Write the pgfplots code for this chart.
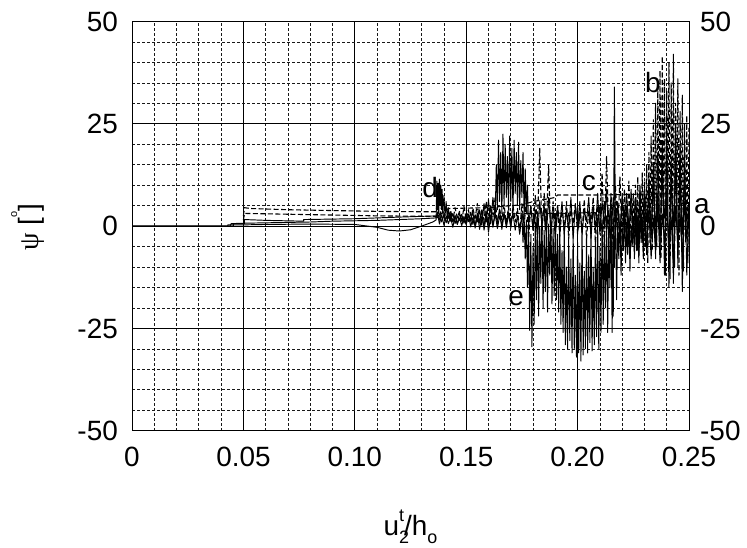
\documentclass[border=0pt]{standalone}
\usepackage{pgfplots}
\pgfplotsset{compat=1.18}
\usepackage{fontspec}
\setmainfont{Liberation Sans}
\newfontfamily\grk{Liberation Serif}
\pgfplotsset{
  solidcurve/.style={black, no markers, line width=0.95bp, line join=round},
  dashcurve/.style={black, no markers, line width=1.1bp, line join=round, dash pattern=on 5bp off 2.5bp},
}
\begin{document}
\begin{tikzpicture}
\useasboundingbox (0,0) rectangle (747bp,548bp);
\begin{axis}[
  at={(132bp,117.3bp)}, anchor=south west,
  width=557bp, height=409.2bp, scale only axis,
  xmin=0, xmax=0.25, ymin=-50, ymax=50,
  xtick={0,0.05,0.1,0.15,0.2,0.25},
  xticklabels={0,0.05,0.10,0.15,0.20,0.25},
  scaled x ticks=false,
  ytick={-50,-25,0,25,50},
  yticklabels={-50,-25,0,25,50},
  minor x tick num=4, minor y tick num=4,
  grid=both,
  major grid style={black, line width=0.8bp},
  minor grid style={black!90, line width=0.7bp, dash pattern=on 3bp off 2bp},
  major tick length=0pt, minor tick length=0pt,
  tick style={draw=none},
  axis line style={line width=1bp},
  /pgf/number format/assume math mode=true,
  ticklabel style={font=\fontsize{28}{30}\selectfont, inner sep=0pt},
  xticklabel style={anchor=north, yshift=-16bp},
  yticklabel style={anchor=east, xshift=-14bp},
  clip=false,
]
% series d (solid)
\addplot[solidcurve] coordinates {(0,0)(0.043,0)(0.043,0.3)(0.05,0.3)(0.06,0.4)(0.08,0.5)(0.1,0.4)(0.11,-0.3)(0.115,-1.0)(0.12,-1.2)(0.125,-0.9)(0.13,0.0)(0.135,1.0)(0.1365,1.5)
(0.1368,11)(0.1371,4)(0.1374,10.5)(0.1377,3)(0.138,11.5)(0.1383,5)(0.1386,10)(0.1389,4)(0.1392,9)(0.1395,3)(0.14,7.5)(0.1405,2.5)(0.141,6)(0.1415,2)(0.142,4.5)(0.1425,1.5)
(0.143,3.0)(0.144,1.0)(0.145,2.5)(0.146,0.5)(0.147,3.2)(0.148,1.2)(0.149,2.0)(0.15,0.3)(0.151,2.8)(0.152,1.5)(0.153,3.5)(0.154,-0.5)(0.155,2.2)(0.156,1.0)(0.157,4.0)(0.158,-1.0)(0.159,2.5)(0.16,0.8)(0.161,5.0)(0.162,-0.3)(0.163,3.0)(0.164,1.0)(0.165,4.2)(0.166,-0.8)(0.167,2.8)(0.168,0.5)(0.169,3.5)(0.17,1.0)(0.171,3.1)(0.172,3.0)(0.175,3.2)(0.1755,1.5)(0.176,3.1)(0.18,3.1)(0.1805,0.5)(0.181,3.1)(0.185,3.2)(0.1855,-1.0)(0.186,3.1)(0.19,3.1)(0.1905,0.0)(0.191,3.2)(0.195,3.1)(0.1955,1.0)(0.196,3.2)(0.2,3.2)(0.2005,-0.5)(0.201,3.2)(0.205,3.3)(0.2055,0.5)(0.206,3.3)(0.208,3.3)
(0.209,0)(0.21,5)(0.211,-2)(0.212,6)(0.213,-1)(0.214,4)(0.215,-3)(0.216,7)(0.217,0)(0.218,5)(0.219,-2)(0.22,6)(0.221,1)(0.222,8)(0.223,-1)(0.224,5)(0.225,-3)(0.226,7)(0.227,0)(0.228,6)(0.229,-2)(0.23,9)(0.231,1)(0.232,7)(0.233,-3)(0.234,10)(0.235,0)(0.236,8)(0.237,-4)(0.238,12)(0.239,2)(0.24,9)(0.241,-5)(0.242,11)(0.243,0)(0.244,14)(0.245,-6)(0.246,10)(0.247,-2)(0.248,12)(0.249,1)(0.25,4.8)};
% series c (dashed)
\addplot[dashcurve] coordinates {(0.05,1.5)(0.0505,3.1)(0.07,2.9)(0.09,2.7)(0.11,2.5)(0.13,2.4)(0.1365,2.3)(0.14,3.5)(0.142,4.3)(0.16,4.5)(0.17,5.0)(0.175,5.2)(0.18,6.0)(0.185,6.5)(0.19,7.0)(0.191,7.6)(0.21,7.6)(0.23,7.8)(0.25,8.0)};
% series a (solid)
\addplot[solidcurve] coordinates {(0,0)(0.0455,0)(0.0455,0.6)(0.0505,0.6)(0.0505,1.6)(0.06,1.4)(0.077,1.2)(0.077,1.6)(0.1,1.8)(0.12,2.2)(0.1365,2.5)
(0.137,2.0)(0.138,3.0)(0.139,1.0)(0.14,2.8)(0.141,0.8)(0.142,2.4)(0.143,1.2)(0.144,3.1)(0.145,0.6)(0.146,2.5)(0.147,1.4)(0.148,2.9)(0.149,0.7)(0.15,2.6)(0.151,1.1)(0.152,3.4)(0.153,0.4)(0.154,2.8)(0.155,1.0)(0.156,4.0)(0.157,0.2)(0.158,5.5)(0.159,1.0)(0.16,6.5)(0.161,0.5)(0.162,7.0)(0.163,2.0)
(0.1635,15)(0.164,4)(0.1645,21)(0.165,6)(0.1655,18)(0.166,3)(0.1665,22.5)(0.167,5)(0.1675,20)(0.168,7)(0.1685,17)(0.169,4)(0.1695,22)(0.17,6)(0.1705,19)(0.171,3)(0.1715,21)(0.172,8)(0.1725,18)(0.173,5)(0.1735,20.5)(0.174,4)(0.1745,16)(0.175,7)(0.1755,18)(0.176,2)(0.1765,14)(0.177,3)(0.1775,10)(0.178,0)
(0.179,5)(0.18,-1)(0.181,4)(0.182,-3)(0.183,6)(0.184,0)(0.185,5)(0.186,-2)(0.187,7)(0.188,-1)(0.189,4)(0.19,-3)(0.191,5)(0.192,0)(0.193,6)(0.194,-2)(0.195,4)(0.196,-1)(0.197,7)(0.198,-3)(0.199,5)(0.2,0)(0.201,6)(0.202,-2)(0.203,4)(0.204,1)(0.205,7)(0.206,-3)(0.207,5)(0.208,-1)(0.209,8)(0.21,-2)(0.211,6)(0.212,0)(0.213,9)(0.214,-4)(0.215,7)(0.216,-22)(0.2165,34)(0.217,-2)(0.218,6)(0.219,-4)(0.22,8)(0.221,-3)(0.222,5)(0.223,-5)(0.224,9)(0.225,-2)(0.226,7)(0.227,-6)(0.228,10)(0.229,-4)(0.23,8)(0.231,-7)(0.232,12)(0.233,-3)(0.234,15)(0.235,-8)(0.236,18)(0.237,-5)(0.238,20)(0.239,-12)(0.24,22)(0.241,-15)(0.242,16)(0.243,-14)(0.244,24)(0.245,-10)(0.246,20)(0.247,-16)(0.248,18)(0.249,-12)(0.25,5)};
% series b (dashed)
\addplot[dashcurve] coordinates {(0.05,2.5)(0.0505,4.5)(0.053,4.3)(0.07,4.0)(0.09,3.8)(0.11,3.6)(0.13,3.5)(0.1365,3.5)
(0.137,6)(0.138,1.5)(0.139,5)(0.14,2)(0.141,4.2)(0.142,1.8)(0.143,3.9)(0.144,1.2)(0.145,4.5)(0.146,2.0)(0.147,3.6)(0.148,1.0)(0.149,4.8)(0.15,1.6)(0.151,4.0)(0.152,0.8)(0.153,4.4)(0.154,1.9)(0.155,5.5)(0.156,0.6)(0.157,4.1)(0.158,1.4)(0.159,6.0)(0.16,1.0)(0.161,4.6)(0.162,2.2)(0.163,7.0)(0.164,0.5)(0.165,4.0)(0.166,1.5)(0.167,5.2)(0.168,0.8)(0.169,4.7)(0.17,-0.5)(0.171,5.0)(0.172,1.0)(0.173,4.3)(0.174,-1.5)(0.175,5.5)(0.176,0.0)(0.177,6.5)(0.178,-3.0)(0.179,5.0)(0.18,-1.0)(0.181,7.5)(0.182,0.5)(0.183,19.0)(0.184,-2.0)(0.185,8.0)(0.186,1.0)(0.187,15.0)(0.188,-4.0)(0.189,6.0)(0.19,0.0)(0.191,5.0)(0.192,-2.5)(0.193,4.5)(0.194,-1.0)(0.195,6.0)(0.196,-3.0)(0.197,4.0)(0.198,0.5)(0.199,5.5)(0.2,-2.0)(0.201,4.5)(0.202,-1.5)(0.203,6.5)(0.204,-3.0)(0.205,4.0)(0.206,0.0)(0.207,7.0)(0.208,-4.0)(0.209,5.0)(0.21,-1.0)(0.211,13.0)(0.212,-5.0)(0.213,17.0)(0.214,-3.0)(0.215,8.0)(0.216,-6.0)(0.217,10.0)(0.218,-2.0)(0.219,12.0)(0.22,-4.0)(0.221,9.0)(0.222,-5.0)(0.223,11.0)(0.224,-3.0)(0.225,8.0)
(0.2255,-6)(0.226,10)(0.2265,-4)(0.227,12)(0.2275,-7)(0.228,9)(0.2285,-3)(0.229,13)(0.2295,-8)(0.23,11)(0.2305,-5)(0.231,15)(0.2315,-9)(0.232,18)(0.2325,-4)(0.233,22)(0.2335,-6)(0.234,26)(0.2345,-2)(0.235,30)(0.2355,-5)(0.236,34)(0.2365,0)(0.237,38)(0.2375,-8)(0.238,41.5)(0.2385,2)(0.239,36)(0.2395,-12)(0.24,33)(0.2405,5)(0.241,40)(0.2415,-13)(0.242,35)(0.2425,0)(0.243,42)(0.2435,-10)(0.244,30)(0.2445,3)(0.245,36)(0.2455,-12)(0.246,28)(0.2465,-2)(0.247,32)(0.2475,-11)(0.248,25)(0.2485,-4)(0.249,27)(0.2495,-9)(0.25,24)};
% series e (solid)
\addplot[solidcurve] coordinates {(0,0)(0.044,0)(0.0445,0.6)(0.05,0.7)(0.06,0.8)(0.07,0.9)(0.08,1.0)(0.09,1.2)(0.1,1.3)(0.11,1.4)(0.12,1.6)(0.13,1.8)(0.1365,2.0)
(0.137,3.5)(0.138,0.5)(0.139,2.8)(0.14,0.2)(0.141,2.5)(0.142,0.6)(0.143,2.2)(0.144,-0.3)(0.145,2.6)(0.146,0.4)(0.147,2.0)(0.148,0.1)(0.149,2.4)(0.15,0.5)(0.151,2.9)(0.152,-0.2)(0.153,2.1)(0.154,0.3)(0.155,3.2)(0.156,-0.8)(0.157,2.4)(0.158,0.0)(0.159,3.6)(0.16,-1.5)(0.161,2.7)(0.162,0.4)(0.163,3.0)(0.164,-0.6)(0.165,2.5)(0.166,0.2)(0.167,3.4)(0.168,-0.4)(0.169,2.8)(0.17,0.0)(0.171,3.1)(0.172,-1.0)(0.173,2.6)(0.174,-2.0)(0.175,3.0)
(0.1755,-4)(0.176,2)(0.1765,-8)(0.177,1.5)(0.1775,-15)(0.178,0.5)(0.1785,-25.5)(0.179,-2)(0.1795,-29.5)(0.18,-5)(0.1805,-24)(0.181,1)(0.1815,-18)(0.182,2.5)(0.1825,-22)(0.183,0)(0.1835,-14)(0.184,3)(0.1845,-20)(0.185,-1)(0.1855,-16)(0.186,2)(0.1865,-21)(0.187,0.5)(0.1875,-12)(0.188,3.5)(0.1885,-19)(0.189,-0.5)(0.1895,-17)(0.19,2)
(0.1905,-18)(0.191,-2)(0.1915,-21)(0.192,1)(0.1925,-24)(0.193,-6)(0.1935,-26)(0.194,0)(0.1945,-29)(0.195,-10)(0.1955,-30)(0.196,-3)(0.1965,-28)(0.197,-8)(0.1975,-31)(0.198,-1)(0.1985,-30)(0.199,-12)(0.1995,-32)(0.2,-4)(0.2005,-31)(0.201,-9)(0.2015,-33)(0.202,0.5)(0.2025,-31.5)(0.203,-11)(0.2035,-30)(0.204,-2)(0.2045,-31)(0.205,-7)(0.2055,-28.5)(0.206,1)(0.2065,-30.5)(0.207,-10)(0.2075,-29)(0.208,-3)(0.2085,-27)(0.209,2)(0.2095,-30)(0.21,-5)(0.2105,-26)(0.211,1.5)(0.2115,-24)(0.212,-2)(0.2125,-20)(0.213,2.5)(0.2135,-26)(0.214,-1)(0.2145,-15)(0.215,3)
(0.2155,-26)(0.216,2)(0.2165,-10)(0.217,4)(0.2175,-18)(0.218,1)(0.2185,-8)(0.219,3)(0.2195,-12)(0.22,0)(0.2205,-6)(0.221,4)(0.2215,-9)(0.222,1)(0.2225,-7)(0.223,3)(0.2235,-11)(0.224,0)(0.2245,-5)(0.225,2)(0.2255,-8)(0.226,3)(0.2265,-6)(0.227,1)(0.2275,-9)(0.228,4)(0.2285,-4)(0.229,2)(0.2295,-7)(0.23,3)(0.231,-5)(0.232,4)(0.233,-8)(0.234,2)(0.235,-6)(0.236,5)(0.237,-9)(0.238,3)(0.239,-4)(0.24,6)(0.241,-7)(0.242,2)(0.243,-10)(0.244,5)(0.245,-5)(0.246,3)(0.247,-8)(0.248,6)(0.249,-3)(0.25,4)};
% curve labels
\node[font=\fontsize{28}{30}\selectfont, inner sep=0pt] at (axis cs:0.2558,4.8) {a};
\node[font=\fontsize{28}{30}\selectfont, inner sep=0pt] at (axis cs:0.2338,35.1) {b};
\node[font=\fontsize{28}{30}\selectfont, inner sep=0pt] at (axis cs:0.2051,10.6) {c};
\node[font=\fontsize{28}{30}\selectfont, inner sep=0pt] at (axis cs:0.1338,9.4) {d};
\node[font=\fontsize{28}{30}\selectfont, inner sep=0pt] at (axis cs:0.1724,-17.7) {e};
% right-hand tick labels
\node[font=\fontsize{28}{30}\selectfont, inner sep=0pt, anchor=west, xshift=11bp] at (axis cs:0.25,-50) {-50};
\node[font=\fontsize{28}{30}\selectfont, inner sep=0pt, anchor=west, xshift=11bp] at (axis cs:0.25,-25) {-25};
\node[font=\fontsize{28}{30}\selectfont, inner sep=0pt, anchor=west, xshift=11bp] at (axis cs:0.25,0) {0};
\node[font=\fontsize{28}{30}\selectfont, inner sep=0pt, anchor=west, xshift=11bp] at (axis cs:0.25,25) {25};
\node[font=\fontsize{28}{30}\selectfont, inner sep=0pt, anchor=west, xshift=11bp] at (axis cs:0.25,50) {50};
\end{axis}
% axis titles
\node[rotate=90, anchor=base, font=\fontsize{28}{30}\selectfont] at (38bp,320.5bp) {{\grk ψ} [\raisebox{21bp}{\fontsize{11}{11}\selectfont o}]};
\node[anchor=base, font=\fontsize{28}{30}\selectfont] at (410.5bp,13bp) {u\raisebox{-8bp}{\rlap{\fontsize{18}{18}\selectfont 2}}\raisebox{14bp}{\fontsize{18}{18}\selectfont t}/h\raisebox{-8bp}{\fontsize{18}{18}\selectfont o}};
\end{tikzpicture}
\end{document}
